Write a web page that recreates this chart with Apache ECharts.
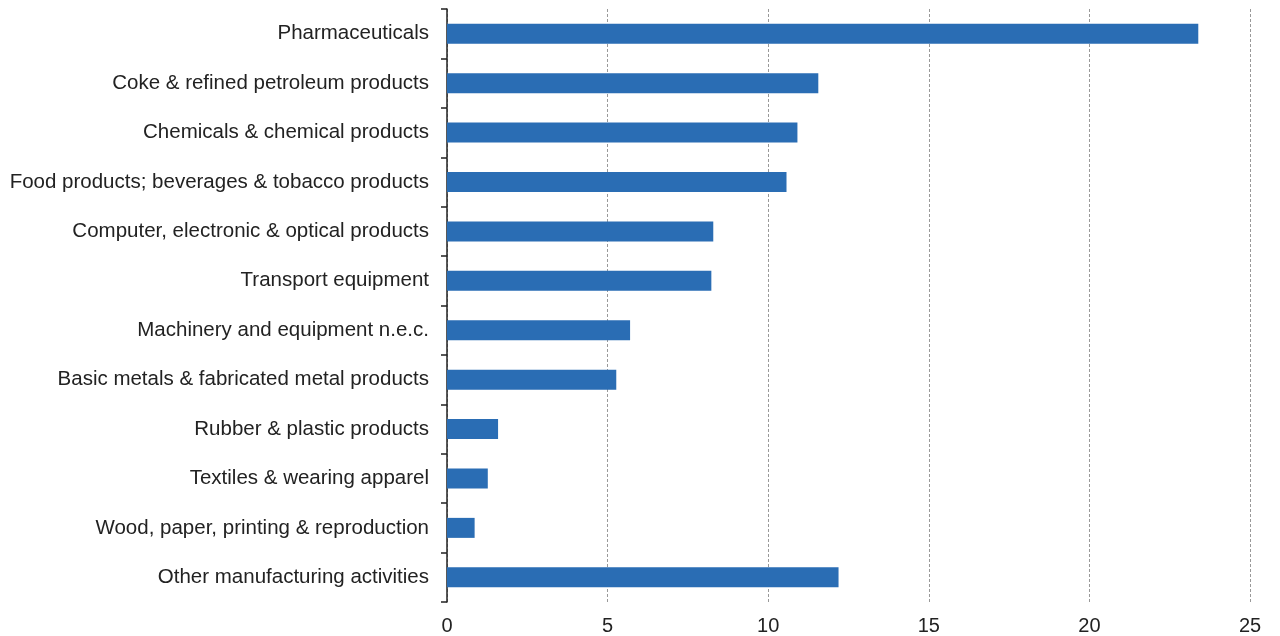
<!DOCTYPE html>
<html><head><meta charset="utf-8">
<script src="https://cdn.jsdelivr.net/npm/echarts@6/dist/echarts.min.js"></script>
<style>html,body{margin:0;padding:0;background:#fff}#c{width:1280px;height:636px}</style>
</head><body><div id="c"></div>
<script>
var categories = [
  "Pharmaceuticals",
  "Coke & refined petroleum products",
  "Chemicals & chemical products",
  "Food products; beverages & tobacco products",
  "Computer, electronic & optical products",
  "Transport equipment",
  "Machinery and equipment n.e.c.",
  "Basic metals & fabricated metal products",
  "Rubber & plastic products",
  "Textiles & wearing apparel",
  "Wood, paper, printing & reproduction",
  "Other manufacturing activities"
];
var values = [23.39, 11.56, 10.91, 10.57, 8.29, 8.23, 5.70, 5.27, 1.59, 1.27, 0.86, 12.19];
var xTicks = [0, 5, 10, 15, 20, 25];

var chart = echarts.init(document.getElementById('c'));
chart.setOption({
  animation: false,
  grid: {left: 447, right: 30, top: 9, bottom: 34, containLabel: false},
  xAxis: {
    type: 'value', min: xTicks[0], max: xTicks[xTicks.length-1], interval: 5,
    axisLine: {show: false}, axisTick: {show: false},
    axisLabel: {color: '#222', fontSize: 20, fontFamily: 'Liberation Sans, Arial', margin: 14},
    splitLine: {show: true, lineStyle: {color: '#999', type: [3, 2], width: 1}}
  },
  yAxis: {
    type: 'category', data: categories, inverse: true,
    axisLine: {show: true, lineStyle: {color: '#222', width: 1.5}},
    axisTick: {show: true, length: 6, lineStyle: {color: '#222', width: 1.5}},
    axisLabel: {color: '#222', fontSize: 20.5, fontFamily: 'Liberation Sans, Arial', margin: 18, padding: [3, 0, 0, 0]}
  },
  series: [{
    type: 'bar', data: values, barWidth: 20,
    itemStyle: {color: '#2A6DB4'}
  }]
});
</script></body></html>
